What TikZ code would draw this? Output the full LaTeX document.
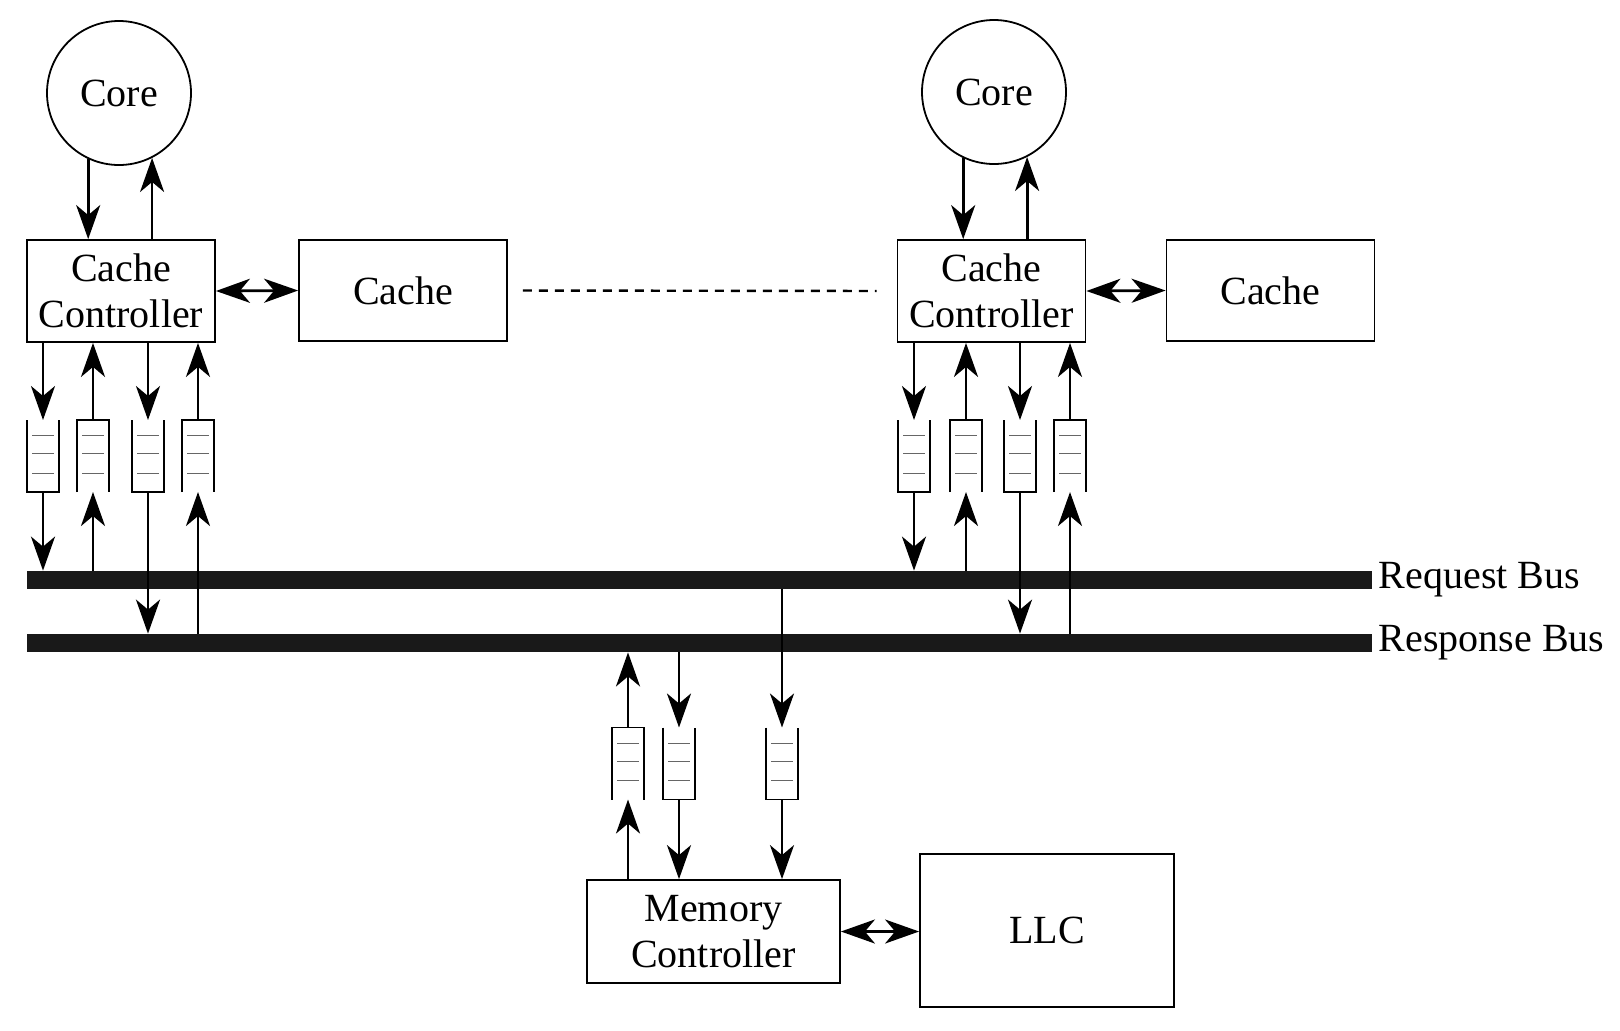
\documentclass[tikz,border=0pt]{standalone}
\usepackage{fontspec}
\setmainfont{Liberation Serif}
\usetikzlibrary{arrows.meta,calc}

\tikzset{
  box/.style={draw, line width=0.9pt, inner sep=0pt, align=center},
  core/.style={draw, circle, line width=0.9pt, minimum size=72pt, inner sep=0pt},
  queue/.style={minimum width=16pt, minimum height=36pt, inner sep=0pt, outer sep=0pt},
  bus/.style={fill=black!90, minimum width=672.5pt, minimum height=9pt, inner sep=0pt},
  qside/.style={line width=0.8pt},
  qslot/.style={line width=0.6pt, black!60},
  link/.style={->, line width=1.4pt},
}

% queue outlines: open end faces the incoming arrow
\newcommand{\qslots}[1]{%
  \foreach \f in {0.22,0.47,0.74}
    \draw[qslot] ($(#1.north west)!\f!(#1.south west)+(2.5pt,0)$) -- ($(#1.north east)!\f!(#1.south east)+(-2.5pt,0)$);}
\newcommand{\downq}[1]{%
  \draw[qside] (#1.north west) -- (#1.south west) -- (#1.south east) -- (#1.north east); \qslots{#1}}
\newcommand{\upq}[1]{%
  \draw[qside] (#1.south west) -- (#1.north west) -- (#1.north east) -- (#1.south east); \qslots{#1}}

\begin{document}
\begin{tikzpicture}[x=0.5pt, y=-0.5pt, font=\fontsize{20}{23}\selectfont,
    >={Stealth[length=17pt,width=12pt,inset=5pt]}]
  \useasboundingbox (0,0) rectangle (1620,1030);

  % Cores
  \node[core] (core1) at (119,93) {Core};
  \node[core] (core2) at (994,92) {Core};

  % Cache controllers and caches
  \node[box, minimum width=94pt, minimum height=51pt] (cc1) at (121,291) {Cache\\Controller};
  \node[box, minimum width=104pt, minimum height=50.5pt] (cache1) at (403,290.5) {Cache};
  \node[box, minimum width=94pt, minimum height=51pt] (cc2) at (991.5,291) {Cache\\Controller};
  \node[box, minimum width=104pt, minimum height=50.5pt] (cache2) at (1270.5,290.5) {Cache};

  % Memory side
  \node[box, minimum width=126.5pt, minimum height=51.5pt] (mc) at (713.5,931.5) {Memory\\Controller};
  \node[box, minimum width=127pt, minimum height=76.5pt] (llc) at (1047,930.5) {LLC};

  % Buses
  \node[bus] (req) at (699.5,580) {};
  \node[bus] (resp) at (699.5,643) {};
  \node[anchor=west, inner sep=3pt] (reqlabel) at (req.east) {Request Bus};
  \node[anchor=west, inner sep=3pt] (resplabel) at (resp.east) {Response Bus};

  % Queues
  \node[queue] (q11) at (43,456) {};
  \node[queue] (q12) at (93,456) {};
  \node[queue] (q13) at (148,456) {};
  \node[queue] (q14) at (198,456) {};
  \node[queue] (q21) at (914,456) {};
  \node[queue] (q22) at (966,456) {};
  \node[queue] (q23) at (1020,456) {};
  \node[queue] (q24) at (1070,456) {};
  \node[queue] (m1) at (628,763.5) {};
  \node[queue] (m2) at (679,763.5) {};
  \node[queue] (m3) at (782,763.5) {};
  \downq{q11} \upq{q12} \downq{q13} \upq{q14}
  \downq{q21} \upq{q22} \downq{q23} \upq{q24}
  \upq{m1} \downq{m2} \downq{m3}

  % Core <-> cache controller
  \foreach \c in {1,2} {
    \draw[link] (core\c.-115) -- (core\c.-115 |- cc\c.north);
    \draw[link] (core\c.-63 |- cc\c.north) -- (core\c.-63);
    \draw[<->, line width=1.4pt] (cc\c.east) -- (cache\c.west);
  }
  \draw[dashed, line width=1.2pt, dash pattern=on 4.5pt off 3.5pt, shorten <=7.5pt, shorten >=10pt]
    (cache1.east) -- (cc2.west);

  % Cache controller <-> buses
  \foreach \c in {1,2} {
    \draw[link] (q\c1.north |- cc\c.south) -- (q\c1.north);
    \draw[link] (q\c1.south) -- (q\c1.south |- req.north);
    \draw[link] (q\c2.north) -- (q\c2.north |- cc\c.south);
    \draw[link] (q\c2.south |- req.north) -- (q\c2.south);
    \draw[link] (q\c3.north |- cc\c.south) -- (q\c3.north);
    \draw[link] (q\c3.south) -- (q\c3.south |- resp.north);
    \draw[link] (q\c4.north) -- (q\c4.north |- cc\c.south);
    \draw[link] (q\c4.south |- resp.north) -- (q\c4.south);
  }

  % Memory controller <-> buses
  \draw[link] (m1.south |- mc.north) -- (m1.south);
  \draw[link] (m1.north) -- (m1.north |- resp.south);
  \draw[link] (m2.north |- resp.south) -- (m2.north);
  \draw[link] (m2.south) -- (m2.south |- mc.north);
  \draw[link] (m3.north |- req.south) -- (m3.north);
  \draw[link] (m3.south) -- (m3.south |- mc.north);
  \draw[<->, line width=1.4pt] (mc.east) -- (mc.east -| llc.west);
\end{tikzpicture}
\end{document}
